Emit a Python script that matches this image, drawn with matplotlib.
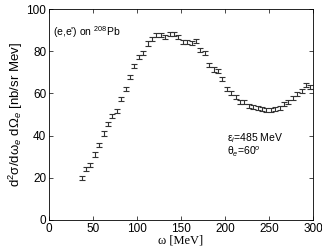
import matplotlib.pyplot as plt
import numpy as np

# energy transfer (MeV) and cross section (nb/sr MeV)
omega = [37, 42, 47, 52, 57, 62, 67, 72, 77, 82, 87, 92, 97, 102, 107, 112, 117,
         122, 127, 132, 137, 142, 147, 152, 157, 162, 167, 172, 177, 182, 187, 192,
         197, 202, 207, 212, 217, 222, 227, 232, 237, 242, 247, 252, 257, 262, 267,
         272, 277, 282, 287, 292, 297]
sigma = [20.0, 24.0, 26.2, 31.0, 35.5, 41.0, 45.5, 49.3, 51.8, 57.3, 62.2, 67.9,
         73.1, 77.1, 79.3, 83.6, 85.6, 87.5, 87.6, 86.9, 88.3, 88.2, 86.9, 84.2,
         84.2, 84.0, 84.8, 80.6, 79.0, 73.3, 71.3, 70.5, 67.0, 62.2, 60.3, 58.4,
         56.1, 55.8, 54.2, 53.4, 53.0, 52.5, 52.1, 52.1, 52.6, 53.2, 55.0, 55.9,
         57.7, 59.7, 61.3, 63.8, 63.2]
err = [1.0] * len(omega)

plt.rcParams['font.family'] = ['Liberation Sans', 'DejaVu Sans']
plt.rcParams['mathtext.fontset'] = 'custom'
plt.rcParams['mathtext.rm'] = 'Liberation Sans'
plt.rcParams['mathtext.it'] = 'Liberation Sans:italic'

fig = plt.figure(figsize=(3.22, 2.5), dpi=100)
ax = fig.add_axes([0.152, 0.12, 0.82, 0.844])

ax.errorbar(omega, sigma, yerr=err, fmt='none', ecolor='#333333',
            elinewidth=0.8, capsize=2.3, capthick=0.8)

ax.set_xlim(0, 300)
ax.set_ylim(0, 100)
ax.set_xticks(np.arange(0, 301, 50))
ax.set_yticks(np.arange(0, 101, 20))
ax.tick_params(direction='in', top=True, right=True, labelsize=8.5, length=3, width=0.5, pad=2)
for s in ax.spines.values():
    s.set_linewidth(0.6)

ax.set_xlabel(r'ω [MeV]', fontsize=9, family=['Liberation Serif', 'DejaVu Serif'], labelpad=0)
ax.set_ylabel(r'd$^2$σ/dω$_e$ dΩ$_e$ [nb/sr Mev]', fontsize=9.5, labelpad=1)

ax.text(5, 89, r"(e,e') on $^{208}$Pb", fontsize=7.5, va='center')
ax.text(202, 38.7, r'ε$_i$=485 MeV', fontsize=7.5, va='center')
ax.text(202, 32.5, r'θ$_e$=60$^o$', fontsize=7.5, va='center')

fig.savefig('out.png', dpi=100)
